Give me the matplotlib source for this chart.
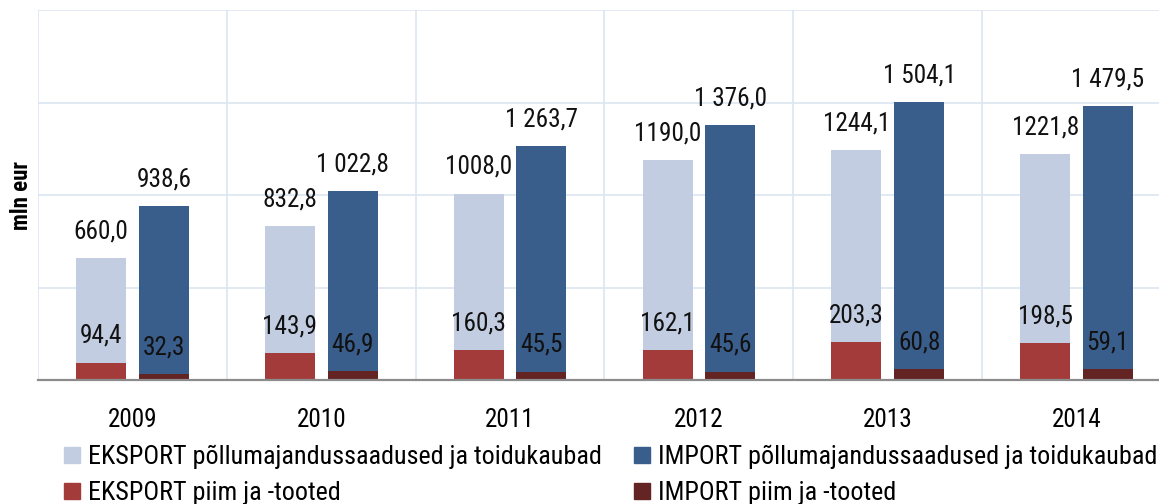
import matplotlib
matplotlib.use("Agg")
import matplotlib.pyplot as plt
from matplotlib.patches import Patch
import numpy as np
from matplotlib import font_manager

years = ["2009", "2010", "2011", "2012", "2013", "2014"]
export_total = [660.0, 832.8, 1008.0, 1190.0, 1244.1, 1221.8]
import_total = [938.6, 1022.8, 1263.7, 1376.0, 1504.1, 1479.5]
export_milk = [94.4, 143.9, 160.3, 162.1, 203.3, 198.5]
import_milk = [32.3, 46.9, 45.5, 45.6, 60.8, 59.1]
export_total_labels = ["660,0", "832,8", "1008,0", "1190,0", "1244,1", "1221,8"]
import_total_labels = ["938,6", "1 022,8", "1 263,7", "1 376,0", "1 504,1", "1 479,5"]
export_milk_labels = ["94,4", "143,9", "160,3", "162,1", "203,3", "198,5"]
import_milk_labels = ["32,3", "46,9", "45,5", "45,6", "60,8", "59,1"]
legend_labels = ["EKSPORT põllumajandussaadused ja toidukaubad",
                 "EKSPORT piim ja -tooted",
                 "IMPORT põllumajandussaadused ja toidukaubad",
                 "IMPORT piim ja -tooted"]

names = {f.name for f in font_manager.fontManager.ttflist}
fam = "Roboto Condensed" if "Roboto Condensed" in names else "Roboto"
plt.rcParams["font.family"] = [fam, "DejaVu Sans"]

c_light = "#c2cde1"
c_dark = "#3a5e8c"
c_red = "#a33b3b"
c_dred = "#632423"
grid_c = "#dbe5f1"

W, H = 1159, 504
fig = plt.figure(figsize=(W / 100, H / 100), dpi=100)
left, right, top, bottom = 38, 1171, 10, 380
ax = fig.add_axes([left / W, (H - bottom) / H, (right - left) / W, (bottom - top) / H])

x = np.arange(len(years))
off = 0.166
bw = 0.265
fs = 18.2

ax.bar(x - off, export_total, bw, color=c_light, zorder=2)
ax.bar(x - off, export_milk, bw, color=c_red, zorder=3)
ax.bar(x + off, import_total, bw, color=c_dark, zorder=2)
ax.bar(x + off, import_milk, bw, color=c_dred, zorder=3)

for xs, vals, labs in [(x - off, export_total, export_total_labels),
                       (x + off, import_total, import_total_labels),
                       (x - off, export_milk, export_milk_labels),
                       (x + off, import_milk, import_milk_labels)]:
    for xi, v, l in zip(xs, vals, labs):
        ax.annotate(l, (xi, v), xytext=(0, 10.5), textcoords="offset points",
                    ha="center", va="bottom", fontsize=fs, color="#111111", zorder=5)

ax.set_xlim(-0.5, len(years) - 0.5)
ax.set_ylim(0, 2000)
ax.set_yticks([500, 1000, 1500, 2000])
ax.set_yticklabels([])
ax.tick_params(axis="y", length=0)
ax.set_xticks(x)
ax.set_xticklabels(years, fontsize=fs)
ax.tick_params(axis="x", length=0, pad=20)
ax.set_xticks(np.arange(-0.5, len(years), 1.0), minor=True)
ax.tick_params(axis="x", which="minor", length=0)
ax.grid(axis="y", which="major", color=grid_c, linewidth=1.2, zorder=0)
ax.grid(axis="x", which="minor", color=grid_c, linewidth=1.2, zorder=0)
ax.set_axisbelow(True)
for s in ["top", "right", "left"]:
    ax.spines[s].set_visible(False)
ax.spines["bottom"].set_color("#8c8c8c")
ax.spines["bottom"].set_linewidth(1.6)
ax.spines["bottom"].set_zorder(4)

fig.text(21 / W, (H - 195) / H, "mln eur", rotation=90, ha="center", va="center",
         fontsize=16.5, fontweight="bold")

handles = [Patch(color=c_light), Patch(color=c_red), Patch(color=c_dark), Patch(color=c_dred)]
lfs = 18.8
fig.legend(handles, legend_labels, ncol=2, loc="upper left",
           bbox_to_anchor=(64 / W, (H - 445) / H), frameon=False, fontsize=lfs,
           handlelength=0.62, handleheight=0.62, handletextpad=0.3,
           columnspacing=1.23, labelspacing=0.46, borderpad=0, borderaxespad=0)

fig.savefig("out.png", dpi=100)
